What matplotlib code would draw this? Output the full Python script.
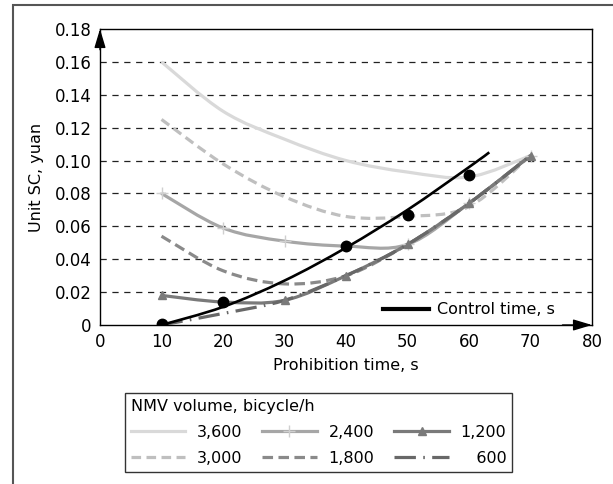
import matplotlib
matplotlib.use("Agg")
import matplotlib.pyplot as plt
from matplotlib.path import Path
from matplotlib.patches import PathPatch, Rectangle
from matplotlib.lines import Line2D

plt.rcParams['font.family'] = ['DejaVu Sans']
plt.rcParams['font.size'] = 11.5

# prohibition time, s
times = [10, 20, 30, 40, 50, 60, 70]

# unit SC (yuan) for each NMV volume, bicycle/h
sc_3600 = [0.160, 0.130, 0.113, 0.100, 0.093, 0.090, 0.103]
sc_3000 = [0.125, 0.098, 0.078, 0.066, 0.066, 0.072, 0.103]
sc_2400 = [0.080, 0.059, 0.051, 0.048, 0.049, 0.074, 0.103]
sc_1800 = [0.054, 0.033, 0.025, 0.030, 0.049, 0.074, 0.103]
sc_1200 = [0.018, 0.014, 0.015, 0.030, 0.049, 0.074, 0.103]
sc_600 = [0.000, 0.007, 0.015, 0.030, 0.049, 0.074, 0.103]

# control time points and the trend line
ctrl_x = [10, 20, 40, 50, 60]
ctrl_y = [0.0005, 0.014, 0.048, 0.067, 0.091]
trend_x = [10, 20, 30, 40, 50, 60, 63.3]
trend_y = [0.000, 0.011, 0.027, 0.047, 0.070, 0.096, 0.105]

x_ticks = [0, 10, 20, 30, 40, 50, 60, 70, 80]
y_ticks = [0, 0.02, 0.04, 0.06, 0.08, 0.10, 0.12, 0.14, 0.16, 0.18]
y_labels = ['0', '0.02', '0.04', '0.06', '0.08', '0.10', '0.12', '0.14', '0.16', '0.18']


def smooth_path(xs, ys):
    # Excel style smoothed line: Bezier segments through every point
    verts = [(xs[0], ys[0])]
    codes = [Path.MOVETO]
    n = len(xs)
    for i in range(n - 1):
        a = i - 1 if i > 0 else i
        b = i + 2 if i + 2 < n else i + 1
        c1 = (xs[i] + (xs[i + 1] - xs[a]) / 6, ys[i] + (ys[i + 1] - ys[a]) / 6)
        c2 = (xs[i + 1] - (xs[b] - xs[i]) / 6, ys[i + 1] - (ys[b] - ys[i]) / 6)
        verts += [c1, c2, (xs[i + 1], ys[i + 1])]
        codes += [Path.CURVE4] * 3
    return Path(verts, codes)


fig = plt.figure(figsize=(6.13, 4.84), dpi=100)
ax = fig.add_axes([100 / 613, 1 - 325 / 484, 492 / 613, 296 / 484])

series = [
    ('3,600', sc_3600, '#d9d9d9', '-', None, None),
    ('3,000', sc_3000, '#bfbfbf', (0, (3, 1.7)), None, None),
    ('2,400', sc_2400, '#a6a6a6', '-', '+', '#cfcfcf'),
    ('1,800', sc_1800, '#8a8a8a', (0, (3.3, 1.7)), None, None),
    ('1,200', sc_1200, '#7a7a7a', '-', '^', '#7a7a7a'),
    ('600', sc_600, '#686868', (0, (6.7, 2.3, 0.5, 2.3)), None, None),
]

handles = []
for label, ys, color, ls, mk, mcol in series:
    patch = PathPatch(smooth_path(times, ys), fill=False, edgecolor=color,
                      lw=2.3, linestyle=ls, capstyle='butt', zorder=3)
    ax.add_patch(patch)
    if mk is not None:
        ax.plot(times, ys, linestyle='none', marker=mk, color=mcol,
                markersize=6 if mk == '^' else 8, markeredgewidth=1, zorder=4)
    handles.append(Line2D([], [], color=color, lw=2.3, linestyle=ls,
                          marker=mk, markersize=6 if mk == '^' else 8,
                          markerfacecolor=mcol, markeredgecolor=mcol))

# control time
ax.add_patch(PathPatch(smooth_path(trend_x, trend_y), fill=False,
                       edgecolor='black', lw=1.9, zorder=5))
ax.plot(ctrl_x, ctrl_y, 'o', color='black', markersize=7.5, zorder=6)

ax.set_xlim(0, 80)
ax.set_ylim(0, 0.18)
ax.set_xticks(x_ticks)
ax.set_yticks(y_ticks)
ax.set_yticklabels(y_labels)
ax.tick_params(length=0, labelsize=12, pad=6)
ax.set_xlabel('Prohibition time, s', fontsize=11.5, labelpad=5)
ax.set_ylabel('Unit SC, yuan', fontsize=11.5, labelpad=8)
for g in y_ticks[1:-1]:
    ax.axhline(g, color='#222222', lw=0.9, linestyle=(0, (5, 4.5)), zorder=1)
for s in ax.spines.values():
    s.set_linewidth(1)
    s.set_color('black')

# arrow heads on the axes
ax.annotate('', xy=(0, 1), xytext=(0, 0.93), xycoords='axes fraction',
            arrowprops=dict(arrowstyle='-|>,head_length=1.0,head_width=0.3',
                            color='black', lw=1, shrinkA=0, shrinkB=0))
ax.annotate('', xy=(1, 0), xytext=(0.94, 0), xycoords='axes fraction',
            arrowprops=dict(arrowstyle='-|>,head_length=1.0,head_width=0.3',
                            color='black', lw=1, shrinkA=0, shrinkB=0))

ax.legend([Line2D([], [], color='black', lw=3)], ['Control time, s'],
          loc='center left', bbox_to_anchor=((383 - 100) / 492, 15 / 296),
          frameon=False, borderpad=0, borderaxespad=0, handlelength=2.9,
          handletextpad=0.5, fontsize=11.5)

labels = [s[0] for s in series]
labels[-1] = '   600'
leg = fig.legend(handles, labels, ncol=3, loc='upper left',
                 bbox_to_anchor=(117 / 613, 1 - 385 / 484),
                 title='NMV volume, bicycle/h', alignment='left',
                 title_fontsize=11.5, fontsize=11.5, frameon=True, fancybox=False,
                 edgecolor='black', handlelength=3.4, handletextpad=0.75,
                 columnspacing=1.25, labelspacing=0.7, borderpad=0.35)
leg.get_frame().set_linewidth(1)

fig.add_artist(Rectangle((13 / 613, -0.02), 1.0, 1 - 5 / 484 + 0.02,
                         transform=fig.transFigure, fill=False,
                         edgecolor='#555555', lw=1.5))

fig.savefig('out.png', dpi=100)
